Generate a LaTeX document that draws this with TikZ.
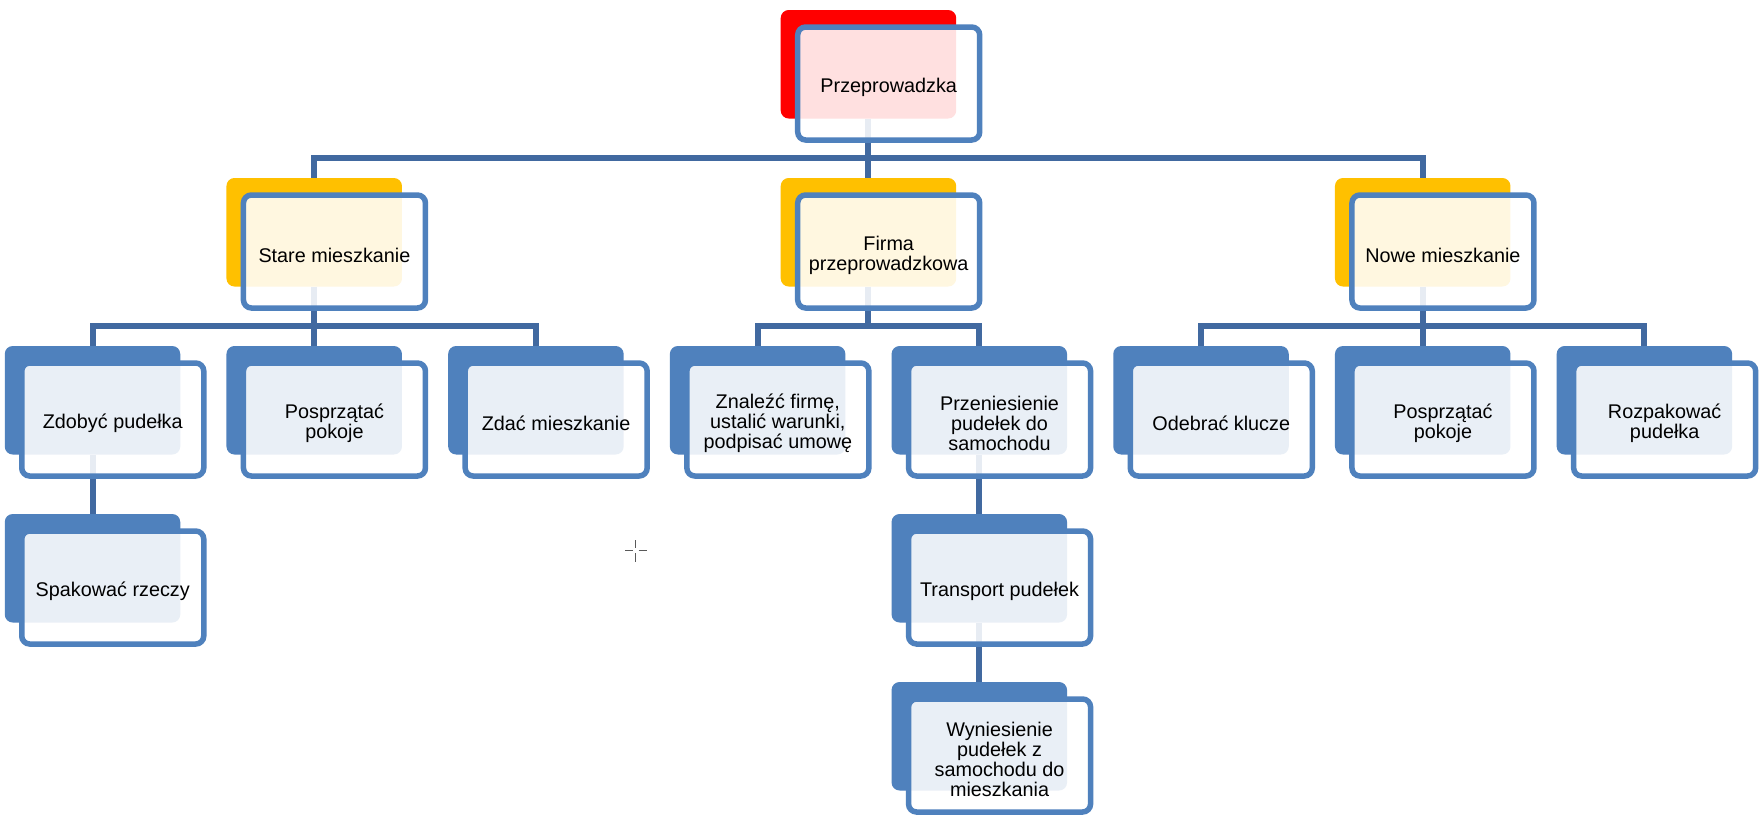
\documentclass[tikz,border=0pt]{standalone}
\usepackage{fontspec}
\setmainfont{Liberation Sans}
\definecolor{cred}{HTML}{FF0000}
\definecolor{cyel}{HTML}{FFC000}
\definecolor{cblue}{HTML}{4F81BD}
\definecolor{cline}{RGB}{65,105,160}
\tikzset{
  backbox/.style={rectangle, rounded corners=8pt, minimum width=175.5pt, minimum height=108.5pt, inner sep=0pt, draw=none},
  frontbox/.style={rectangle, rounded corners=8pt, minimum width=182pt, minimum height=113pt, inner sep=0pt,
    draw=cblue, line width=5.5pt, fill=white, fill opacity=0.88, draw opacity=1},
  txt/.style={align=center, inner sep=0pt, font=\fontsize{19.8}{20.2}\selectfont},
  conn/.style={draw=cline, line width=6pt},
  fshift/.style={shift={(20.25,19.25)}},
  tshift/.style={shift={(0,4)}}
}
\begin{document}
\begin{tikzpicture}[x=1pt,y=-1pt]
\useasboundingbox[fill=white] (0,0) rectangle (1764,814);
% back boxes
\node[backbox, fill=cred] (t) at (868.45,64.25) {};
\node[backbox, fill=cyel] (s) at (314.2,232.25) {};
\node[backbox, fill=cyel] (fm) at (868.45,232.25) {};
\node[backbox, fill=cyel] (n) at (1422.7,232.25) {};
\node[backbox, fill=cblue] (a1) at (92.5,400.25) {};
\node[backbox, fill=cblue] (a2) at (314.2,400.25) {};
\node[backbox, fill=cblue] (a3) at (535.9,400.25) {};
\node[backbox, fill=cblue] (a4) at (757.6,400.25) {};
\node[backbox, fill=cblue] (a5) at (979.3,400.25) {};
\node[backbox, fill=cblue] (a6) at (1201,400.25) {};
\node[backbox, fill=cblue] (a7) at (1422.7,400.25) {};
\node[backbox, fill=cblue] (a8) at (1644.4,400.25) {};
\node[backbox, fill=cblue] (sp) at (92.5,568.25) {};
\node[backbox, fill=cblue] (tr) at (979.3,568.25) {};
\node[backbox, fill=cblue] (wy) at (979.3,736.25) {};
% connectors
\draw[conn] (t.south) -- ++(0,39.5) coordinate (j1);
\draw[conn] (j1) -| (s.north);
\draw[conn] (j1) -| (fm.north);
\draw[conn] (j1) -| (n.north);
\draw[conn] (s.south) -- ++(0,39.5) coordinate (j2);
\draw[conn] (j2) -| (a1.north);
\draw[conn] (j2) -| (a2.north);
\draw[conn] (j2) -| (a3.north);
\draw[conn] (fm.south) -- ++(0,39.5) coordinate (j3);
\draw[conn] (j3) -| (a4.north);
\draw[conn] (j3) -| (a5.north);
\draw[conn] (n.south) -- ++(0,39.5) coordinate (j4);
\draw[conn] (j4) -| (a6.north);
\draw[conn] (j4) -| (a7.north);
\draw[conn] (j4) -| (a8.north);
\draw[conn] (a1.south) -- (sp.north);
\draw[conn] (a5.south) -- (tr.north);
\draw[conn] (tr.south) -- (wy.north);
% front boxes
\node[frontbox] (ft) at ([fshift]t.center) {};
\node[frontbox] (fs) at ([fshift]s.center) {};
\node[frontbox] (ffm) at ([fshift]fm.center) {};
\node[frontbox] (fn) at ([fshift]n.center) {};
\node[frontbox] (fa1) at ([fshift]a1.center) {};
\node[frontbox] (fa2) at ([fshift]a2.center) {};
\node[frontbox] (fa3) at ([fshift]a3.center) {};
\node[frontbox] (fa4) at ([fshift]a4.center) {};
\node[frontbox] (fa5) at ([fshift]a5.center) {};
\node[frontbox] (fa6) at ([fshift]a6.center) {};
\node[frontbox] (fa7) at ([fshift]a7.center) {};
\node[frontbox] (fa8) at ([fshift]a8.center) {};
\node[frontbox] (fsp) at ([fshift]sp.center) {};
\node[frontbox] (ftr) at ([fshift]tr.center) {};
\node[frontbox] (fwy) at ([fshift]wy.center) {};
% texts
\node[txt] (lt) at ([tshift]ft.center) {Przeprowadzka};
\node[txt] (ls) at ([tshift]fs.center) {Stare mieszkanie};
\node[txt] (lfm) at ([tshift]ffm.center) {Firma\\przeprowadzkowa};
\node[txt] (ln) at ([tshift]fn.center) {Nowe mieszkanie};
\node[txt] (la1) at ([tshift]fa1.center) {Zdobyć pudełka};
\node[txt] (la2) at ([tshift]fa2.center) {Posprzątać\\pokoje};
\node[txt] (la3) at ([tshift]fa3.center) {Zdać mieszkanie};
\node[txt] (la4) at ([tshift]fa4.center) {Znaleźć firmę,\\ustalić warunki,\\podpisać umowę};
\node[txt] (la5) at ([tshift]fa5.center) {Przeniesienie\\pudełek do\\samochodu};
\node[txt] (la6) at ([tshift]fa6.center) {Odebrać klucze};
\node[txt] (la7) at ([tshift]fa7.center) {Posprzątać\\pokoje};
\node[txt] (la8) at ([tshift]fa8.center) {Rozpakować\\pudełka};
\node[txt] (lsp) at ([tshift]fsp.center) {Spakować rzeczy};
\node[txt] (ltr) at ([tshift]ftr.center) {Transport pudełek};
\node[txt] (lwy) at ([tshift]fwy.center) {Wyniesienie\\pudełek z\\samochodu do\\mieszkania};
% cursor mark
\draw[gray!70!black, line width=1.2pt] (625,550.5) -- (633,550.5) (638.5,550.5) -- (647,550.5)
  (635.7,540) -- (635.7,548) (635.7,553) -- (635.7,562);
\end{tikzpicture}
\end{document}
